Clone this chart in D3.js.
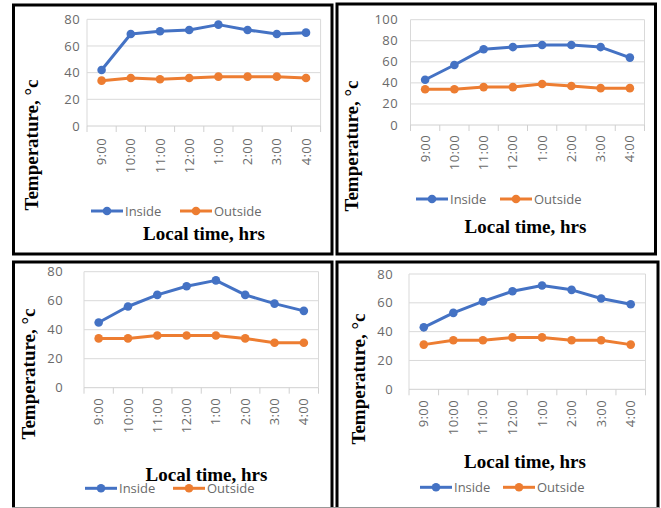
<!DOCTYPE html>
<html lang="en">
<head>
<meta charset="UTF-8">
<title>Temperature charts</title>
<script src="https://cdn.jsdelivr.net/npm/d3@7"></script>
<style>
  body { margin: 0; background: #fff; }
  .tick-label { font-family: "Open Sans", sans-serif; font-size: 13px; fill: #6a6a6a; letter-spacing: 0.4px; }
  .legend text { font-family: "Open Sans", sans-serif; font-size: 13px; fill: #6a6a6a; }
  .title { font-family: "Liberation Serif", "Times New Roman", serif; font-weight: bold; font-size: 19px; fill: #000; }
</style>
</head>
<body>
<div id="chart"></div>
<script>
// data
const categories = ["9:00", "10:00", "11:00", "12:00", "1:00", "2:00", "3:00", "4:00"];
const inside1 = [42, 69, 71, 72, 76, 72, 69, 70];
const outside1 = [34, 36, 35, 36, 37, 37, 37, 36];
const inside2 = [43, 57, 72, 74, 76, 76, 74, 64];
const outside2 = [34, 34, 36, 36, 39, 37, 35, 35];
const inside3 = [45, 56, 64, 70, 74, 64, 58, 53];
const outside3 = [34, 34, 36, 36, 36, 34, 31, 31];
const inside4 = [43, 53, 61, 68, 72, 69, 63, 59];
const outside4 = [31, 34, 34, 36, 36, 34, 34, 31];
const ticks80 = [0, 20, 40, 60, 80];
const ticks100 = [0, 20, 40, 60, 80, 100];
const seriesNames = ["Inside", "Outside"];
const colors = ["#4472C4", "#ED7D31"];

// layout of the four panels
const panels = [
  { inside: inside1, outside: outside1, ticks: ticks80,
    frame: [13.5, 5, 318.5, 249], x0: 87, x1: 320.6, yTop: 19.3, yBot: 126,
    yLabX: 80, xLabTop: 138, legY: 211, legX: [91, 180],
    titleX: 204, titleY: 240, yTitleX: 37.5, yTitleY: 145 },
  { inside: inside2, outside: outside2, ticks: ticks100,
    frame: [337, 4, 318.5, 250], x0: 410.5, x1: 644.5, yTop: 19.7, yBot: 125,
    yLabX: 398, xLabTop: 135, legY: 199, legX: [416, 500],
    titleX: 525.5, titleY: 233, yTitleX: 358, yTitleY: 146 },
  { inside: inside3, outside: outside3, ticks: ticks80,
    frame: [13.5, 262, 318.5, 260], x0: 84, x1: 318.5, yTop: 271.7, yBot: 387.7,
    yLabX: 63, xLabTop: 398, legY: 488.3, legX: [85, 173],
    titleX: 206.5, titleY: 481, yTitleX: 35, yTitleY: 374 },
  { inside: inside4, outside: outside4, ticks: ticks80,
    frame: [337, 262, 321, 260], x0: 409, x1: 645.5, yTop: 274, yBot: 389.3,
    yLabX: 393, xLabTop: 400, legY: 487.3, legX: [420, 503],
    titleX: 525, titleY: 468.3, yTitleX: 365, yTitleY: 379 }
];

const svg = d3.select("#chart").append("svg")
  .attr("width", 661)
  .attr("height", 508);

panels.forEach(p => {
  const g = svg.append("g");

  const x = d3.scaleBand().domain(categories).range([p.x0, p.x1]);
  const y = d3.scaleLinear().domain([0, d3.max(p.ticks)]).range([p.yBot, p.yTop]);

  // gridlines
  g.selectAll(".grid")
    .data(p.ticks.slice(1))
    .enter().append("line")
    .attr("x1", p.x0).attr("x2", p.x1)
    .attr("y1", d => y(d)).attr("y2", d => y(d))
    .attr("stroke", "#d9d9d9").attr("stroke-width", 1);

  // plot area sides
  [p.x0, p.x1].forEach(xx => {
    g.append("line")
      .attr("x1", xx).attr("x2", xx)
      .attr("y1", p.yTop).attr("y2", p.yBot)
      .attr("stroke", "#d9d9d9");
  });

  // x axis line and ticks at band edges
  g.append("line")
    .attr("x1", p.x0).attr("x2", p.x1)
    .attr("y1", p.yBot).attr("y2", p.yBot)
    .attr("stroke", "#d0d0d0");
  g.selectAll(".xtick")
    .data(categories.concat(["end"]))
    .enter().append("line")
    .attr("x1", (d, i) => p.x0 + i * x.bandwidth())
    .attr("x2", (d, i) => p.x0 + i * x.bandwidth())
    .attr("y1", p.yBot).attr("y2", p.yBot + 6)
    .attr("stroke", "#d0d0d0");

  // y tick labels
  g.selectAll(".ylab")
    .data(p.ticks)
    .enter().append("text")
    .attr("class", "tick-label")
    .attr("x", p.yLabX)
    .attr("y", d => y(d))
    .attr("dy", "0.35em")
    .attr("text-anchor", "end")
    .text(d => d);

  // x tick labels, rotated
  g.selectAll(".xlab")
    .data(categories)
    .enter().append("text")
    .attr("class", "tick-label")
    .attr("text-anchor", "end")
    .attr("transform", d => "translate(" + (x(d) + x.bandwidth() / 2) + "," + p.xLabTop + ") rotate(-90)")
    .attr("dy", "0.35em")
    .text(d => d);

  // lines and markers
  const line = d3.line()
    .x((d, i) => x(categories[i]) + x.bandwidth() / 2)
    .y(d => y(d));

  [p.inside, p.outside].forEach((vals, k) => {
    g.append("path")
      .datum(vals)
      .attr("fill", "none")
      .attr("stroke", colors[k])
      .attr("stroke-width", 3)
      .attr("stroke-linejoin", "round")
      .attr("d", line);
    g.selectAll(".dot" + k)
      .data(vals)
      .enter().append("circle")
      .attr("cx", (d, i) => x(categories[i]) + x.bandwidth() / 2)
      .attr("cy", d => y(d))
      .attr("r", 4.3)
      .attr("fill", colors[k]);
  });

  // legend
  const legend = g.append("g").attr("class", "legend");
  seriesNames.forEach((name, k) => {
    const lx = p.legX[k];
    legend.append("line")
      .attr("x1", lx).attr("x2", lx + 32)
      .attr("y1", p.legY).attr("y2", p.legY)
      .attr("stroke", colors[k]).attr("stroke-width", 3);
    legend.append("circle")
      .attr("cx", lx + 16).attr("cy", p.legY).attr("r", 4.3)
      .attr("fill", colors[k]);
    legend.append("text")
      .attr("x", lx + 34).attr("y", p.legY)
      .attr("dy", "0.35em")
      .text(name);
  });

  // axis titles
  g.append("text")
    .attr("class", "title")
    .attr("x", p.titleX).attr("y", p.titleY)
    .attr("text-anchor", "middle")
    .text("Local time, hrs");

  g.append("text")
    .attr("class", "title")
    .attr("transform", "translate(" + p.yTitleX + "," + p.yTitleY + ") rotate(-90)")
    .attr("text-anchor", "middle")
    .text("Temperature,  °c");

  // frame
  g.append("rect")
    .attr("x", p.frame[0]).attr("y", p.frame[1])
    .attr("width", p.frame[2]).attr("height", p.frame[3])
    .attr("fill", "none")
    .attr("stroke", "#000")
    .attr("stroke-width", 3);
});

// thin grey edge along the bottom of the picture
svg.append("line")
  .attr("x1", 12).attr("x2", 660)
  .attr("y1", 507.5).attr("y2", 507.5)
  .attr("stroke", "#999");
</script>
</body>
</html>
